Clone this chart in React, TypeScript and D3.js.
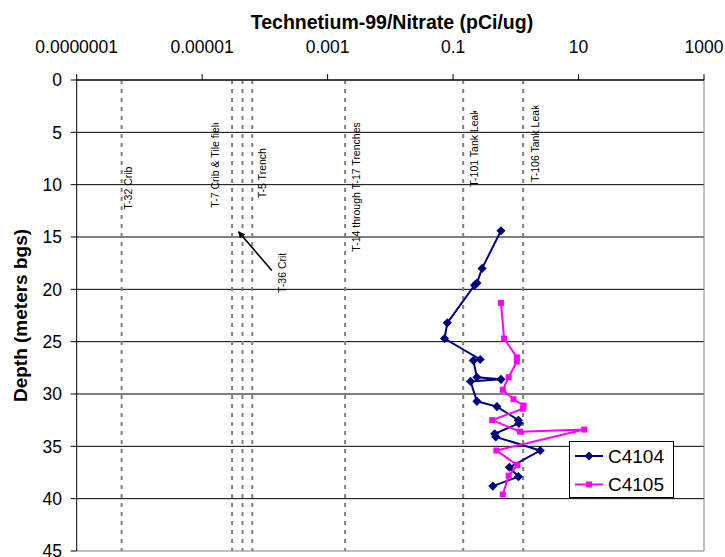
import React from 'react';
import * as d3 from 'd3';

// ---- data ----
const xTickValues = [1e-7, 1e-5, 1e-3, 0.1, 10, 1000];
const xTickLabels = ['0.0000001', '0.00001', '0.001', '0.1', '10', '1000'];
const yTickValues = [0, 5, 10, 15, 20, 25, 30, 35, 40, 45];

const c4104Depth = [14.4, 18.0, 19.4, 19.6, 23.2, 24.7, 26.7, 26.8, 28.4, 28.6, 28.8, 30.7, 31.2, 32.5, 32.8, 33.8, 34.1, 35.4, 37.0, 37.9, 38.8];
const c4104Ratio = [0.58, 0.29, 0.24, 0.22, 0.081, 0.073, 0.27, 0.21, 0.24, 0.58, 0.19, 0.24, 0.5, 1.1, 1.12, 0.46, 0.48, 2.45, 0.79, 1.1, 0.43];
const c4105Depth = [21.3, 24.7, 26.5, 26.9, 28.4, 29.6, 30.5, 31.1, 31.4, 32.5, 33.6, 33.4, 35.4, 36.8, 37.8, 39.6];
const c4105Ratio = [0.58, 0.65, 1.04, 1.04, 0.77, 0.62, 0.92, 1.33, 1.3, 0.42, 1.17, 12.3, 0.49, 1.06, 0.77, 0.62];

const refNames = ['T-32 Crib', 'T-7 Crib & Tile field', 'T-36 Crib', 'T-5 Trench', 'T-14 through T-17 Trenches', 'T-101 Tank Leak', 'T-106 Tank Leak'];
const refValues = [5.2e-7, 3.0e-5, 4.4e-5, 6.3e-5, 1.9e-3, 0.145, 1.31];
// label placement (annotation layout): [baseline x offset from line, start depth, clip top depth]
const refLabelLayout: [number, number, number][] = [
  [10.5, 12.4, 0],
  [-13, 12.2, 4.1],
  [43, 20.35, 16.55],
  [14, 11.3, 0],
  [15, 16.4, 4.1],
  [15, 10.2, 2.95],
  [16, 9.75, 2.45],
];
const arrowFrom = [1.29e-4, 18.2];
const arrowTo = [3.8e-5, 14.5];

const seriesNames = ['C4104', 'C4105'];
const seriesColors = ['#000080', '#FF00FF'];

export default function App() {
  const W = 725, H = 557;
  const left = 76.7, right = 704, top = 80, bottom = 551;
  const x = d3.scaleLog().domain([1e-7, 1000]).range([left, right]);
  const y = d3.scaleLinear().domain([0, 45]).range([top, bottom]);

  const line = d3.line<[number, number]>().x(d => x(d[0])).y(d => y(d[1]));
  const s1: [number, number][] = c4104Depth.map((dp, i) => [c4104Ratio[i], dp]);
  const s2: [number, number][] = c4105Depth.map((dp, i) => [c4105Ratio[i], dp]);
  const diamond = d3.symbol().type(d3.symbolSquare).size(42)() as string;
  const square = d3.symbol().type(d3.symbolSquare).size(36)() as string;

  const font = 'Arial, "Liberation Sans", Helvetica, sans-serif';

  return (
    <svg width={W} height={H} style={{ position: 'absolute', left: 0, top: 0, background: '#fff' }} fontFamily={font}>
      <defs>
        <marker id="ah" viewBox="0 0 10 10" refX="9" refY="5" markerWidth="7" markerHeight="7" orient="auto" markerUnits="userSpaceOnUse">
          <path d="M0,0 L10,5 L0,10 z" fill="#000" />
        </marker>
        {refNames.map((n, i) => {
          const [dx, , clipTop] = refLabelLayout[i];
          const bx = x(refValues[i]) + dx;
          return (
            <clipPath id={`clip${i}`} key={n}>
              <rect x={bx - 14} y={clipTop > 0 ? y(clipTop) : 0} width={20} height={H} />
            </clipPath>
          );
        })}
      </defs>
      <rect x={0} y={0} width={W} height={H} fill="#fff" />

      {/* title */}
      <text x={392} y={29} textAnchor="middle" fontSize={19.5} fontWeight="bold">Technetium-99/Nitrate (pCi/ug)</text>

      {/* horizontal gridlines */}
      {yTickValues.map(v => (
        <line key={v} x1={left} x2={right} y1={y(v)} y2={y(v)} stroke={v === 45 ? '#808080' : '#000'} strokeWidth={1} />
      ))}
      {/* right border */}
      <line x1={right} x2={right} y1={top} y2={bottom} stroke="#808080" strokeWidth={1} />

      {/* reference dashed lines */}
      {refValues.map((v, i) => (
        <line key={i} x1={x(v)} x2={x(v)} y1={top} y2={bottom} stroke="#808080" strokeWidth={2} strokeDasharray="4,5" />
      ))}
      {refNames.map((n, i) => {
        const [dx, startDepth] = refLabelLayout[i];
        const bx = x(refValues[i]) + dx;
        const by = y(startDepth);
        return (
          <g key={n} clipPath={`url(#clip${i})`}>
            <text transform={`translate(${bx},${by}) rotate(-90)`} fontSize={10.5} fill="#000">{n}</text>
          </g>
        );
      })}
      <line x1={x(arrowFrom[0])} y1={y(arrowFrom[1])} x2={x(arrowTo[0])} y2={y(arrowTo[1])} stroke="#000" strokeWidth={1.6} markerEnd="url(#ah)" />

      {/* axes */}
      <line x1={left} x2={left} y1={top} y2={bottom} stroke="#000" strokeWidth={1} />
      <line x1={left} x2={right} y1={top} y2={top} stroke="#000" strokeWidth={1} />
      {yTickValues.map(v => (
        <g key={v}>
          <line x1={left - 6} x2={left} y1={y(v)} y2={y(v)} stroke="#000" />
          <text x={62} y={y(v)} dy="0.36em" textAnchor="end" fontSize={17.5}>{v}</text>
        </g>
      ))}
      {xTickValues.map((v, i) => (
        <g key={v}>
          <line x1={x(v)} x2={x(v)} y1={top - 6} y2={top} stroke="#000" />
          <text x={x(v)} y={53} textAnchor="middle" fontSize={17.5}>{xTickLabels[i]}</text>
        </g>
      ))}
      <text transform={`translate(27,${(top + bottom) / 2}) rotate(-90)`} textAnchor="middle" fontSize={19} fontWeight="bold">Depth (meters bgs)</text>

      {/* series */}
      <path d={line(s1) || ''} fill="none" stroke={seriesColors[0]} strokeWidth={2} />
      {s1.map((d, i) => (
        <path key={i} d={diamond} transform={`translate(${x(d[0])},${y(d[1])}) rotate(45)`} fill={seriesColors[0]} />
      ))}
      <path d={line(s2) || ''} fill="none" stroke={seriesColors[1]} strokeWidth={2} />
      {s2.map((d, i) => (
        <path key={i} d={square} transform={`translate(${x(d[0])},${y(d[1])})`} fill={seriesColors[1]} />
      ))}

      {/* legend */}
      <g>
        <rect x={569.5} y={441.5} width={104} height={56} fill="#fff" stroke="#000" strokeWidth={1} />
        {seriesNames.map((n, i) => {
          const ly = 456 + i * 28.5;
          return (
            <g key={n}>
              <line x1={575} x2={603} y1={ly} y2={ly} stroke={seriesColors[i]} strokeWidth={2} />
              <path d={i === 0 ? diamond : square} transform={`translate(589,${ly})${i === 0 ? ' rotate(45)' : ''}`} fill={seriesColors[i]} />
              <text x={608} y={ly} dy="0.36em" fontSize={19}>{n}</text>
            </g>
          );
        })}
      </g>
    </svg>
  );
}
